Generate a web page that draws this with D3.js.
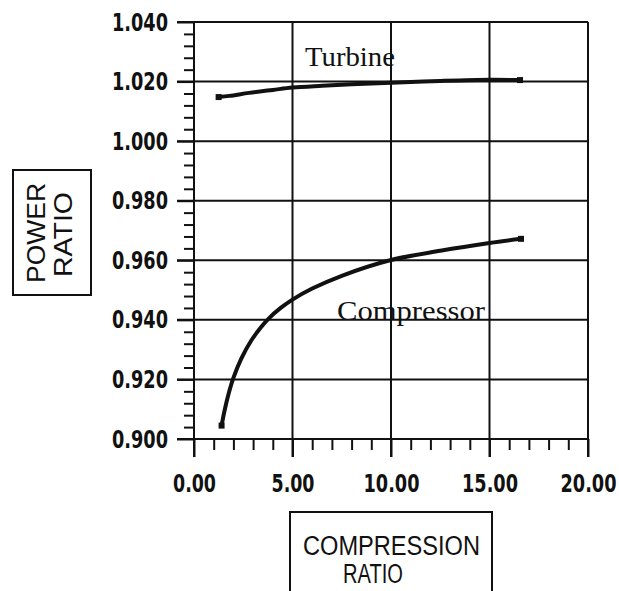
<!DOCTYPE html>
<html>

<head>
    <meta charset="utf-8">
    <style>
        body {
            margin: 0;
            background: #fff;
        }

        svg {
            display: block;
        }

        .tick line {
            stroke: #111;
            stroke-width: 2px;
        }

        .domain {
            display: none;
        }

        .grid line {
            stroke: #111;
            stroke-width: 2px;
        }

        .box {
            fill: none;
            stroke: #111;
            stroke-width: 2px;
        }

        .boxlabel {
            font-family: 'Liberation Sans', Arial, sans-serif;
            fill: #111;
        }

        .curvelabel {
            font-family: 'Liberation Serif', 'Times New Roman', serif;
            font-size: 28px;
            fill: #111;
        }
    </style>
</head>

<body>
    <svg width="619" height="591"></svg>

    <script src="https://cdn.jsdelivr.net/npm/d3@7"></script>
    <script>
        // values
        let xTicks = [0, 5, 10, 15, 20]
        let yTicks = [0.900, 0.920, 0.940, 0.960, 0.980, 1.000, 1.020, 1.040]

        let turbineX = [1.25, 1.8, 2.8, 4.0, 5.0, 6.5, 8.0, 10.0, 12.5, 15.0, 16.55]
        let turbineY = [1.0148, 1.0152, 1.0162, 1.0172, 1.0180, 1.0186, 1.0191, 1.0196, 1.0202, 1.0206, 1.0205]

        let compX = [1.40, 1.55, 1.75, 2.0, 2.4, 2.9, 3.4, 3.8, 4.4, 5.0, 6.0, 7.5, 10.0, 12.5, 15.0, 16.6]
        let compY = [0.9045, 0.9095, 0.9150, 0.9205, 0.9270, 0.9330, 0.9375, 0.9405, 0.9440, 0.9468, 0.9505, 0.9548, 0.9601, 0.9632, 0.9658, 0.9672]

        let svg = d3.select("svg")

        let x = d3.scaleLinear()
            .domain([0, 20])
            .range([194, 588])

        let y = d3.scaleLinear()
            .domain([0.900, 1.040])
            .range([439, 22])

        // width of the narrow tick digits
        function labelWidth(s) {
            let digits = s.replace(".", "").length
            return digits * 13 + 4
        }

        function styleLabels(g) {
            g.selectAll(".tick text")
                .attr("font-family", "'DejaVu Sans', sans-serif")
                .attr("font-size", 25)
                .attr("font-weight", "bold")
                .attr("fill", "#111")
                .attr("textLength", function () { return labelWidth(this.textContent) })
                .attr("lengthAdjust", "spacingAndGlyphs")
        }

        // grid lines
        svg.append("g")
            .attr("class", "grid")
            .selectAll("line")
            .data(yTicks)
            .join("line")
            .attr("x1", 177)
            .attr("x2", x(20))
            .attr("y1", d => y(d))
            .attr("y2", d => y(d))

        svg.append("g")
            .attr("class", "grid")
            .selectAll("line")
            .data(xTicks)
            .join("line")
            .attr("x1", d => x(d))
            .attr("x2", d => x(d))
            .attr("y1", y(1.040))
            .attr("y2", 457)

        // y minor ticks
        let yMinor = d3.range(0.904, 1.040, 0.004).filter(v => Math.abs((v * 1000) % 20) > 0.5 && Math.abs((v * 1000) % 20 - 20) > 0.5)
        svg.append("g")
            .attr("class", "y minor")
            .attr("transform", `translate(${x(0)},0)`)
            .call(d3.axisLeft(y).tickValues(yMinor).tickSize(10).tickFormat(""))

        // y major labels
        let yAxis = svg.append("g")
            .attr("class", "y axis")
            .attr("transform", `translate(${x(0)},0)`)
            .call(d3.axisLeft(y).tickValues(yTicks).tickSize(17).tickPadding(9).tickFormat(d3.format(".3f")))

        styleLabels(yAxis)

        // x minor ticks
        let xMinor = d3.range(1, 20, 1).filter(v => v % 5 != 0)
        svg.append("g")
            .attr("class", "x minor")
            .attr("transform", `translate(0,${y(0.900)})`)
            .call(d3.axisBottom(x).tickValues(xMinor).tickSize(11).tickFormat(""))

        let xAxis = svg.append("g")
            .attr("class", "x axis")
            .attr("transform", `translate(0,${y(0.900)})`)
            .call(d3.axisBottom(x).tickValues(xTicks).tickSize(18).tickPadding(17).tickFormat(d3.format(".2f")))

        styleLabels(xAxis)

        // curves
        let turbine = turbineX.map((v, i) => ({ x: v, y: turbineY[i] }))
        let compressor = compX.map((v, i) => ({ x: v, y: compY[i] }))

        let line = d3.line()
            .x(d => x(d.x))
            .y(d => y(d.y))
            .curve(d3.curveCatmullRom.alpha(0.5))

        svg.append("g")
            .selectAll("path")
            .data([turbine, compressor])
            .join("path")
            .attr("d", d => line(d))
            .style("fill", "none")
            .style("stroke", "#111")
            .style("stroke-width", 4)
            .style("stroke-linecap", "round")

        // end markers
        let ends = [turbine[0], turbine[turbine.length - 1], compressor[0], compressor[compressor.length - 1]]
        svg.append("g")
            .selectAll("rect")
            .data(ends)
            .join("rect")
            .attr("x", d => x(d.x) - 3)
            .attr("y", d => y(d.y) - 3)
            .attr("width", 6)
            .attr("height", 6)
            .style("fill", "#111")

        // curve labels
        svg.append("text")
            .attr("class", "curvelabel")
            .attr("x", 305)
            .attr("y", 66)
            .attr("textLength", 90)
            .attr("lengthAdjust", "spacingAndGlyphs")
            .text("Turbine")

        svg.append("text")
            .attr("class", "curvelabel")
            .attr("x", 337)
            .attr("y", 320)
            .attr("textLength", 148)
            .attr("lengthAdjust", "spacingAndGlyphs")
            .text("Compressor")

        // y title box
        svg.append("rect")
            .attr("class", "box")
            .attr("x", 13)
            .attr("y", 170)
            .attr("width", 78)
            .attr("height", 125)

        svg.append("text")
            .attr("class", "boxlabel")
            .attr("transform", "translate(45,233) rotate(-90)")
            .attr("text-anchor", "middle")
            .attr("font-size", 25)
            .attr("textLength", 100)
            .attr("lengthAdjust", "spacingAndGlyphs")
            .text("POWER")

        svg.append("text")
            .attr("class", "boxlabel")
            .attr("transform", "translate(72,234.5) rotate(-90)")
            .attr("text-anchor", "middle")
            .attr("font-size", 25)
            .attr("textLength", 85)
            .attr("lengthAdjust", "spacingAndGlyphs")
            .text("RATIO")

        // x title box
        svg.append("rect")
            .attr("class", "box")
            .attr("x", 290)
            .attr("y", 512)
            .attr("width", 202)
            .attr("height", 100)

        svg.append("text")
            .attr("class", "boxlabel")
            .attr("x", 303)
            .attr("y", 555)
            .attr("font-size", 27)
            .attr("textLength", 177)
            .attr("lengthAdjust", "spacingAndGlyphs")
            .text("COMPRESSION")

        svg.append("text")
            .attr("class", "boxlabel")
            .attr("x", 343)
            .attr("y", 583)
            .attr("font-size", 27)
            .attr("textLength", 60)
            .attr("lengthAdjust", "spacingAndGlyphs")
            .text("RATIO")
    </script>
</body>

</html>
